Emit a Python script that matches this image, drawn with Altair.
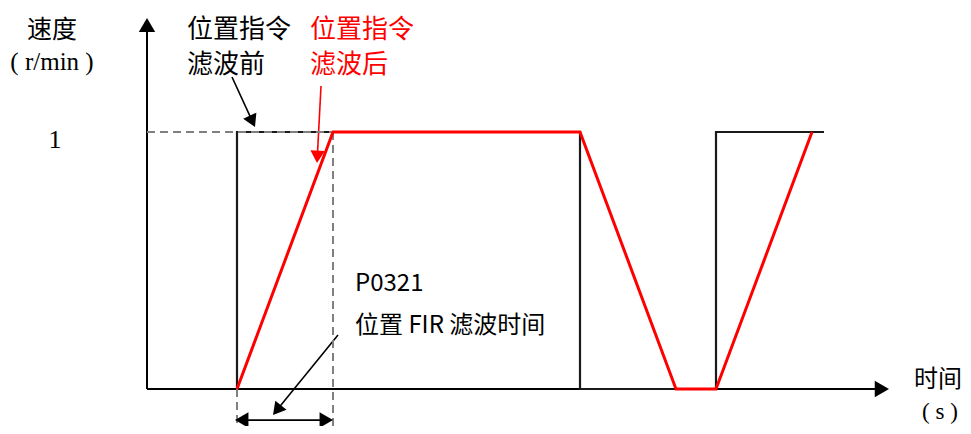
import math
import altair as alt
import pandas as pd

# ---- data (time units, speed in r/min normalised) ----
black_t = [9.0, 9.0, 43.3, 43.3, 56.9, 56.9, 67.7]
black_v = [0, 1, 1, 0, 0, 1, 1]
red_t = [9.0, 18.6, 43.3, 52.9, 56.9, 66.5]
red_v = [0, 1, 1, 0, 0, 1]

axis_x_end = 74.2
axis_y_end = 1.444
filter_start = 9.0
filter_end = 18.6
dash_bottom = -0.18

W, H = 955, 418
XD = [-13.9, 81.6]
YD = [-0.144, 1.4825]
PX_T = W / (XD[1] - XD[0])
PX_V = H / (YD[1] - YD[0])

xs = alt.Scale(domain=XD, nice=False, zero=False)
ys = alt.Scale(domain=YD, nice=False, zero=False)


def head(frm, tip, size):
    dx = (tip[0] - frm[0]) * PX_T
    dy = -(tip[1] - frm[1]) * PX_V
    L = math.hypot(dx, dy)
    ux, uy = dx / L, dy / L
    h = 0.866 * math.sqrt(size) / 2
    cx = tip[0] - ux * h / PX_T
    cy = tip[1] + uy * h / PX_V
    ang = math.degrees(math.atan2(ux, -uy)) % 360
    return cx, cy, ang


# arrows: (from, tip, color, size, width)
arrows = [
    ((0, 0), (0, axis_y_end), "black", 270, 2),
    ((0, 0), (axis_x_end, 0), "black", 270, 2),
    ((8.5, 1.214), (10.8, 1.019), "black", 210, 1.6),
    ((17.4, 1.179), (17.0, 0.879), "red", 210, 1.6),
    ((19.1, 0.210), (12.6, -0.101), "black", 210, 1.6),
    ((13.7, -0.121), (8.8, -0.121), "black", 240, 1.8),
    ((13.7, -0.121), (filter_end, -0.121), "black", 240, 1.8),
]
seg_rows, head_rows = [], []
for f, t, c, s, w in arrows:
    cx, cy, ang = head(f, t, s)
    seg_rows.append(dict(t=f[0], v=f[1], t2=cx, v2=cy, c=c, w=w))
    head_rows.append(dict(t=cx, v=cy, ang=ang, c=c, s=s))
seg_df = pd.DataFrame(seg_rows)
head_df = pd.DataFrame(head_rows)

segs = alt.Chart(seg_df).mark_rule().encode(
    x=alt.X("t:Q", scale=xs, axis=None), y=alt.Y("v:Q", scale=ys, axis=None),
    x2="t2:Q", y2="v2:Q",
    color=alt.Color("c:N", scale=None),
    strokeWidth=alt.StrokeWidth("w:Q", scale=None),
)
heads = alt.Chart(head_df).mark_point(shape="triangle-up", filled=True, opacity=1).encode(
    x=alt.X("t:Q", scale=xs, axis=None), y=alt.Y("v:Q", scale=ys, axis=None),
    angle=alt.Angle("ang:Q", scale=None),
    color=alt.Color("c:N", scale=None),
    size=alt.Size("s:Q", scale=None),
)

dash_df = pd.DataFrame([
    dict(t=0, v=1, t2=filter_end, v2=1),
    dict(t=filter_end, v=1, t2=filter_end, v2=dash_bottom),
    dict(t=filter_start, v=0, t2=filter_start, v2=dash_bottom),
])
dashes = alt.Chart(dash_df).mark_rule(color="#808080", strokeWidth=2, strokeDash=[8, 5]).encode(
    x=alt.X("t:Q", scale=xs, axis=None), y=alt.Y("v:Q", scale=ys, axis=None),
    x2="t2:Q", y2="v2:Q",
)

bdf = pd.DataFrame(dict(t=black_t, v=black_v, o=range(len(black_t))))
rdf = pd.DataFrame(dict(t=red_t, v=red_v, o=range(len(red_t))))
bline = alt.Chart(bdf).mark_line(color="#1a1a1a", strokeWidth=2.2).encode(
    x=alt.X("t:Q", scale=xs, axis=None), y=alt.Y("v:Q", scale=ys, axis=None), order="o:Q")
rline = alt.Chart(rdf).mark_line(color="#ff0000", strokeWidth=3).encode(
    x=alt.X("t:Q", scale=xs, axis=None), y=alt.Y("v:Q", scale=ys, axis=None), order="o:Q")

SERIF = "Liberation Serif"
CJK = "Noto Sans CJK SC"


def txt(rows, align, font, size, color="black"):
    df = pd.DataFrame(rows)
    return alt.Chart(df).mark_text(align=align, baseline="middle", font=font,
                                   fontSize=size, color=color).encode(
        x=alt.X("t:Q", scale=xs, axis=None), y=alt.Y("v:Q", scale=ys, axis=None),
        text="label:N")


t_speed = txt([dict(t=-9.5, v=1.398, label="速度")], "center", CJK, 25)
t_time = txt([dict(t=79.1, v=0.035, label="时间")], "center", CJK, 24)
t_units = txt([dict(t=-9.5, v=1.272, label="( r/min )")], "center", SERIF, 25)
t_sec = txt([dict(t=79.3, v=-0.09, label="( s )")], "center", SERIF, 23)
t_one = txt([dict(t=-9.2, v=0.969, label="1")], "center", SERIF, 26)
t_black = txt([dict(t=4.0, v=1.398, label="位置指令"),
               dict(t=4.0, v=1.262, label="滤波前")], "left", CJK, 26)
t_red = txt([dict(t=16.3, v=1.398, label="位置指令"),
             dict(t=16.3, v=1.262, label="滤波后")], "left", CJK, 26, "#ff0000")
t_note = txt([dict(t=20.8, v=0.409, label="P0321"),
              dict(t=20.8, v=0.245, label="位置 FIR 滤波时间")], "left", CJK, 24)

chart = alt.layer(segs, bline, dashes, rline, heads, t_speed, t_time, t_units, t_sec,
                  t_one, t_black, t_red, t_note).properties(
    width=W, height=H, padding=0, autosize=alt.AutoSizeParams(type="none"),
).configure_view(stroke=None)

chart.save("out.html", embed_options={"renderer": "svg", "actions": False})
